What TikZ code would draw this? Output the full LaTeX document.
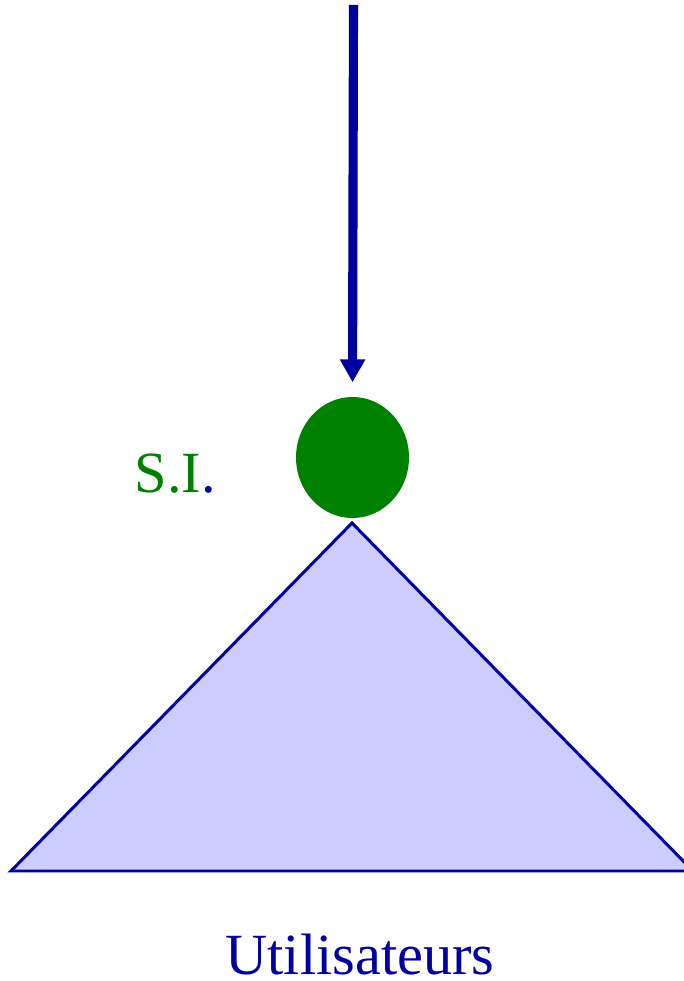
\documentclass[tikz,border=0pt]{standalone}
\usepackage{fontspec}
\setmainfont{Liberation Serif}
\usetikzlibrary{shapes.geometric, positioning, arrows.meta}
\definecolor{sinavy}{RGB}{0,0,160}
\definecolor{sigreen}{RGB}{0,128,0}
\definecolor{silav}{RGB}{204,204,255}

\begin{document}
\begin{tikzpicture}[
  sinode/.style={ellipse, fill=sigreen, minimum width=1.13cm, minimum height=1.21cm, inner sep=0pt},
  lbl/.style={font=\fontsize{16.6}{20}\selectfont, inner sep=0pt},
  tri/.style={draw=sinavy, fill=silav, line width=0.85pt, line join=miter},
  >={Triangle[length=2.3mm, width=2.4mm]}
]
  \useasboundingbox (0,0) rectangle (6.84,9.81);

  % Triangle des utilisateurs
  \coordinate (apex) at (3.52,4.58);
  \coordinate (bl) at (0.11,1.10);
  \coordinate (br) at (6.93,1.10);
  \draw[tri] (apex) -- (bl) -- (br) -- cycle;

  % S.I.
  \node[sinode] (si) at (3.525,5.235) {};
  \node[lbl, anchor=base west] (silbl) at (1.34,4.88) {\textcolor{sigreen}{S.I}\textcolor{sinavy}{.}};

  % Fleche d'entree
  \coordinate (top) at (3.535,9.76);
  \draw[->, sinavy, line width=2.6pt, shorten >=1.4mm] (top) -- (si.north);

  \node[lbl, anchor=base, text=sinavy] (users) at (3.6,0.07) {Utilisateurs};
\end{tikzpicture}
\end{document}
